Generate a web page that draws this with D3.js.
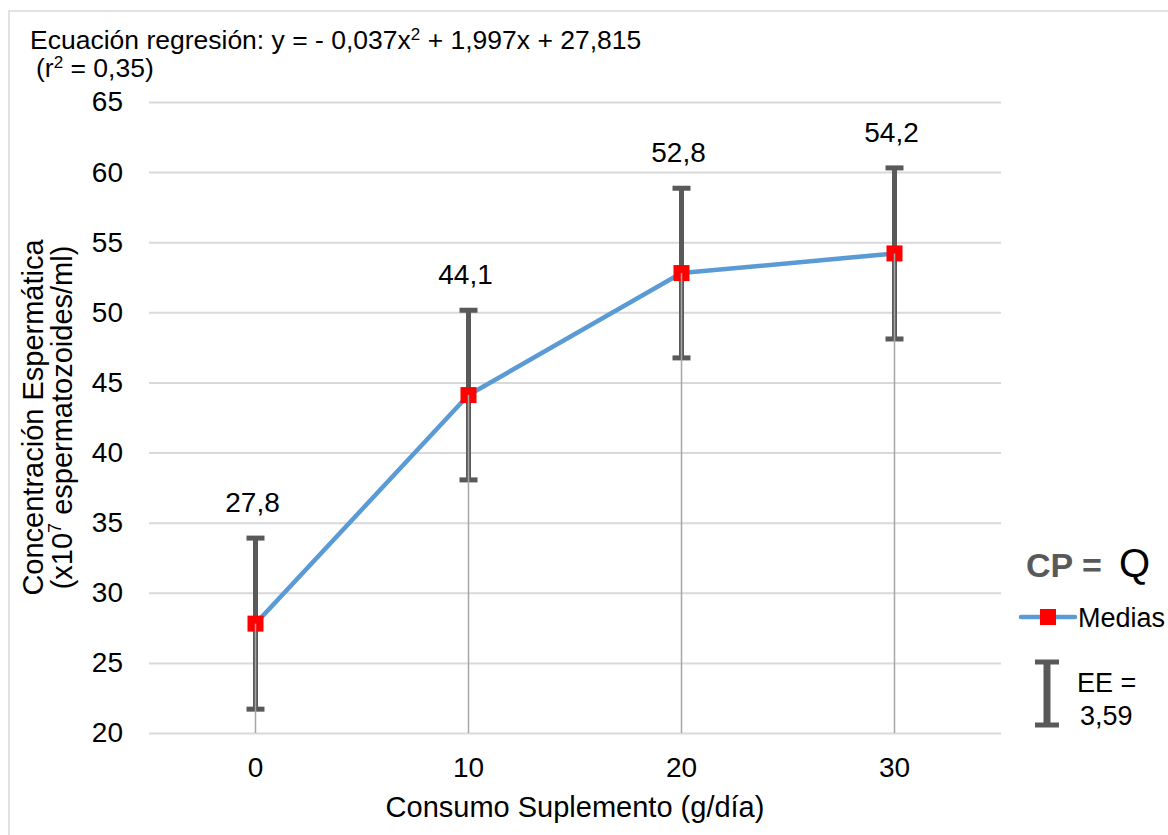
<!DOCTYPE html>
<html><head><meta charset="utf-8">
<script src="https://cdn.jsdelivr.net/npm/d3@7"></script>
<style>body{margin:0;background:#fff;}svg{display:block;font-family:"Liberation Sans",Arial,sans-serif;}</style>
</head><body>
<svg id="c" width="1168" height="835"></svg>
<script>
const categories = ["0","10","20","30"];
const means = [27.8, 44.1, 52.8, 54.2];
const meanLabels = ["27,8","44,1","52,8","54,2"];
const errors = [6.1, 6.05, 6.05, 6.1];
const yTicks = [20,25,30,35,40,45,50,55,60,65];

const svg = d3.select("#c");
const W = 1168, H = 835;
const m = {left:149, right:1001, top:102, bottom:733};

// outer frame
svg.append("rect").attr("x",9).attr("y",11).attr("width",W+20).attr("height",H+20)
  .attr("fill","none").attr("stroke","#d9d9d9").attr("stroke-width",1.5);

const x = d3.scaleBand().domain(categories).range([m.left, m.right]);
const xc = d => x(d) + x.bandwidth()/2;
const y = d3.scaleLinear().domain([20,65]).range([m.bottom, m.top]);

// gridlines + y ticks
const yAxis = d3.axisLeft(y).tickValues(yTicks).tickSize(-(m.right-m.left)).tickFormat(d3.format("d")).tickPadding(26);
const gy = svg.append("g").attr("transform",`translate(${m.left},0)`).call(yAxis);
gy.select(".domain").remove();
gy.selectAll(".tick line").attr("stroke","#d9d9d9").attr("stroke-width",2);
gy.selectAll(".tick text").attr("fill","#000").attr("font-size",28).attr("font-family","Liberation Sans, Arial, sans-serif");

const xAxis = d3.axisBottom(x).tickSize(0).tickPadding(0);
const gx = svg.append("g").attr("transform",`translate(0,${m.bottom})`).call(xAxis);
gx.select(".domain").remove();
gx.selectAll(".tick text").attr("fill","#000").attr("font-size",28).attr("dy",null).attr("y",44).attr("font-family","Liberation Sans, Arial, sans-serif");

// error bars
const eg = svg.append("g");
categories.forEach((c,i)=>{
  const cx = xc(c), top = y(means[i]+errors[i]), bot = y(means[i]-errors[i]);
  eg.append("line").attr("x1",cx).attr("x2",cx).attr("y1",top).attr("y2",bot).attr("stroke","#595959").attr("stroke-width",5);
  [top,bot].forEach(v=>eg.append("line").attr("x1",cx-9).attr("x2",cx+9).attr("y1",v).attr("y2",v).attr("stroke","#595959").attr("stroke-width",5));
});

// line
const line = d3.line().x((d,i)=>xc(categories[i])).y(d=>y(d));
svg.append("path").datum(means).attr("d",line).attr("fill","none").attr("stroke","#5b9bd5").attr("stroke-width",4.5).attr("stroke-linejoin","round");

// markers
svg.append("g").selectAll("rect").data(means).join("rect")
  .attr("x",(d,i)=>xc(categories[i])-8).attr("y",d=>y(d)-8).attr("width",16).attr("height",16).attr("fill","#ff0000");

// drop lines
svg.append("g").selectAll("line").data(means).join("line")
  .attr("x1",(d,i)=>xc(categories[i])).attr("x2",(d,i)=>xc(categories[i]))
  .attr("y1",d=>y(d)).attr("y2",m.bottom).attr("stroke","#a6a6a6").attr("stroke-width",1.5);

// data labels
svg.append("g").selectAll("text").data(means).join("text")
  .attr("x",(d,i)=>xc(categories[i])-3).attr("y",(d,i)=>y(d+errors[i])-26)
  .attr("text-anchor","middle").attr("font-size",28).attr("fill","#000").text((d,i)=>meanLabels[i]);

// title
const t1 = svg.append("text").attr("x",30).attr("y",49).attr("font-size",26.5).attr("fill","#000");
t1.append("tspan").text("Ecuación regresión: y = - 0,037x");
t1.append("tspan").attr("dy",-9).attr("font-size",17).text("2");
t1.append("tspan").attr("dy",9).text(" + 1,997x + 27,815");
const t2 = svg.append("text").attr("x",36).attr("y",77).attr("font-size",26.5).attr("fill","#000");
t2.append("tspan").text("(r");
t2.append("tspan").attr("dy",-9).attr("font-size",17).text("2");
t2.append("tspan").attr("dy",9).text(" = 0,35)");

// axis titles
svg.append("text").attr("x",575).attr("y",817).attr("text-anchor","middle").attr("font-size",29).attr("fill","#000").text("Consumo Suplemento (g/día)");
const yt = svg.append("g").attr("transform",`translate(0,${(m.top+m.bottom)/2}) rotate(-90)`);
yt.append("text").attr("x",0).attr("y",43).attr("text-anchor","middle").attr("font-size",29).attr("fill","#000").text("Concentración Espermática");
const yt2 = yt.append("text").attr("x",0).attr("y",72).attr("text-anchor","middle").attr("font-size",29).attr("fill","#000");
yt2.append("tspan").text("(x10");
yt2.append("tspan").attr("dy",-11).attr("font-size",18).text("7");
yt2.append("tspan").attr("dy",11).text(" espermatozoides/ml)");

// legend
const lg = svg.append("g");
lg.append("text").attr("x",1026).attr("y",577).attr("font-size",34).attr("font-weight","bold").attr("fill","#595959").text("CP =");
lg.append("text").attr("x",1119).attr("y",577).attr("font-size",40).attr("fill","#000").text("Q");
lg.append("line").attr("x1",1021).attr("x2",1075).attr("y1",617).attr("y2",617).attr("stroke","#5b9bd5").attr("stroke-width",4.5).attr("stroke-linecap","round");
lg.append("rect").attr("x",1040).attr("y",609).attr("width",16).attr("height",16).attr("fill","#ff0000");
lg.append("text").attr("x",1078).attr("y",627).attr("font-size",27).attr("fill","#000").text("Medias");
lg.append("line").attr("x1",1047).attr("x2",1047).attr("y1",662).attr("y2",725).attr("stroke","#595959").attr("stroke-width",7);
[662,725].forEach(v=>lg.append("line").attr("x1",1035).attr("x2",1059).attr("y1",v).attr("y2",v).attr("stroke","#595959").attr("stroke-width",5));
lg.append("text").attr("x",1077).attr("y",692).attr("font-size",27).attr("fill","#000").text("EE =");
lg.append("text").attr("x",1080).attr("y",725).attr("font-size",27).attr("fill","#000").text("3,59");
</script>
</body></html>
